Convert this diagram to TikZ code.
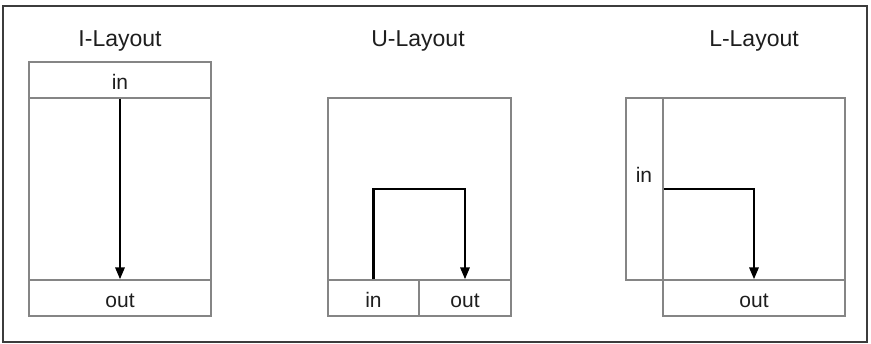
\documentclass[tikz,border=0pt]{standalone}
\usepackage{fontspec}
\setmainfont{Liberation Sans}
\usetikzlibrary{arrows.meta}
\definecolor{boxgray}{HTML}{858585}
\definecolor{framegray}{HTML}{3C3C3C}
\definecolor{ink}{HTML}{1E1E1E}
\begin{document}
\begin{tikzpicture}[x=1pt,y=-1pt,
  cell/.style={draw=boxgray,line width=1.1pt,rectangle,inner sep=0pt,
    text height=20pt,text depth=0pt,font=\fontsize{21}{21}\selectfont,text=ink},
  titletext/.style={anchor=base,font=\fontsize{23}{23}\selectfont,text=ink},
  flow/.style={draw=black,line width=2.8pt,-{Triangle[width=9pt,length=12pt]}}]
\useasboundingbox (0,0) rectangle (871,344);
\node[draw=framegray,line width=2.2pt,minimum width=864pt,minimum height=336pt,inner sep=0pt] (frame) at (435,174) {};
% I-Layout
\node[titletext] (ititle) at (120,47) {I-Layout};
\node[cell,minimum width=182pt,minimum height=36pt] (iin) at (120,80) {in};
\node[cell,minimum width=182pt,minimum height=182pt] (imain) at (120,189) {};
\node[cell,minimum width=182pt,minimum height=36pt] (iout) at (120,298) {out};
\draw[flow] (iin.south) -- (iout.north);
% U-Layout
\node[titletext] (utitle) at (418,47) {U-Layout};
\node[cell,minimum width=183pt,minimum height=182pt] (umain) at (419.5,189) {};
\node[cell,minimum width=91pt,minimum height=36pt] (uin) at (373.5,298) {in};
\node[cell,minimum width=92pt,minimum height=36pt] (uout) at (465,298) {out};
\coordinate (uturn) at (373.5,189);
\draw[flow] (uin.north) -- (uturn) -| (uout.north);
% L-Layout
\node[titletext] (ltitle) at (754,47) {L-Layout};
\node[cell,minimum width=37pt,minimum height=182pt] (lstrip) at (644.5,189) {};
\node[cell,minimum width=182pt,minimum height=182pt] (lmain) at (754,189) {};
\node[cell,minimum width=182pt,minimum height=36pt] (lout) at (754,298) {out};
\node[anchor=base,font=\fontsize{21}{21}\selectfont,text=ink] (lintext) at (644,183) {in};
\draw[flow] (lstrip.east) -| (lout.north);
\end{tikzpicture}
\end{document}
